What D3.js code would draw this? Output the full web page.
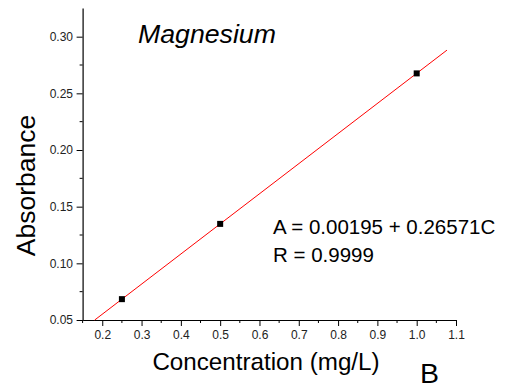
<!DOCTYPE html>
<html>
<head>
<meta charset="utf-8">
<script src="https://cdn.jsdelivr.net/npm/d3@7"></script>
<style>
  html, body { margin: 0; padding: 0; background: #fff; }
  svg { display: block; font-family: "Liberation Sans", Arial, sans-serif; }
</style>
</head>
<body>
<svg id="chart" width="528" height="387"></svg>
<script>
// Calibration standards: concentration (mg/L) and measured absorbance
const concentrations = [0.25, 0.5, 1.0];
const absorbances = [0.0684, 0.1348, 0.2676];

// Linear fit A = a + bC
const fitIntercept = 0.00195;
const fitSlope = 0.26571;
const fitRange = [0.1808, 1.077];

const xMajorTicks = [0.2, 0.3, 0.4, 0.5, 0.6, 0.7, 0.8, 0.9, 1.0, 1.1];
const xMinorTicks = [0.15, 0.25, 0.35, 0.45, 0.55, 0.65, 0.75, 0.85, 0.95, 1.05];
const yMajorTicks = [0.05, 0.10, 0.15, 0.20, 0.25, 0.30];
const yMinorTicks = [0.075, 0.125, 0.175, 0.225, 0.275];

const svg = d3.select("#chart");

const x = d3.scaleLinear().domain([0.15, 1.1]).range([82.6, 456]);
const y = d3.scaleLinear().domain([0.05, 0.3253]).range([320, 8]);

// Axes
const xAxis = svg.append("g").attr("transform", `translate(0,${y(0.05)})`);
xAxis.call(d3.axisBottom(x).tickValues(xMajorTicks).tickFormat(d3.format(".1f")).tickSize(6).tickSizeOuter(0));
xAxis.append("g").selectAll("line").data(xMinorTicks).join("line")
  .attr("x1", d => x(d)).attr("x2", d => x(d)).attr("y1", 0).attr("y2", 3)
  .attr("stroke", "#000");

const yAxis = svg.append("g").attr("transform", `translate(${x(0.15)},0)`);
yAxis.call(d3.axisLeft(y).tickValues(yMajorTicks).tickFormat(d3.format(".2f")).tickSize(6).tickSizeOuter(0));
yAxis.append("g").selectAll("line").data(yMinorTicks).join("line")
  .attr("y1", d => y(d)).attr("y2", d => y(d)).attr("x1", 0).attr("x2", -3)
  .attr("stroke", "#000");

svg.selectAll(".domain").attr("stroke", "#000").attr("stroke-width", 1.2);
svg.selectAll(".tick line").attr("stroke", "#000");
svg.selectAll(".tick text").attr("font-size", 12).attr("fill", "#222")
  .attr("font-family", "Liberation Sans, Arial, sans-serif");
xAxis.selectAll(".tick text").attr("dy", "0.85em");
yAxis.selectAll(".tick text").attr("dx", "-0.05em");

// Fit line
svg.append("line")
  .attr("x1", x(fitRange[0])).attr("y1", y(fitIntercept + fitSlope * fitRange[0]))
  .attr("x2", x(fitRange[1])).attr("y2", y(fitIntercept + fitSlope * fitRange[1]))
  .attr("stroke", "#ff0000").attr("stroke-width", 1);

// Data points
svg.selectAll("rect.pt").data(concentrations).join("rect")
  .attr("class", "pt")
  .attr("x", d => x(d) - 3).attr("y", (d, i) => y(absorbances[i]) - 3)
  .attr("width", 6).attr("height", 6).attr("fill", "#000");

// Labels
svg.append("text").attr("x", 138).attr("y", 43).attr("font-size", 26.7)
  .attr("font-style", "italic").text("Magnesium");

svg.append("text").attr("transform", "translate(34.5,185.5) rotate(-90)")
  .attr("text-anchor", "middle").attr("font-size", 26.5).text("Absorbance");

svg.append("text").attr("x", 266).attr("y", 370).attr("text-anchor", "middle")
  .attr("font-size", 24.2).text("Concentration (mg/L)");

svg.append("text").attr("x", 420).attr("y", 382.5).attr("font-size", 28.5).text("B");

svg.append("text").attr("x", 273).attr("y", 233.5).attr("font-size", 20.5)
  .text(`A = ${fitIntercept} + ${fitSlope}C`);
svg.append("text").attr("x", 273).attr("y", 262).attr("font-size", 20.5)
  .text("R = 0.9999");
</script>
</body>
</html>
